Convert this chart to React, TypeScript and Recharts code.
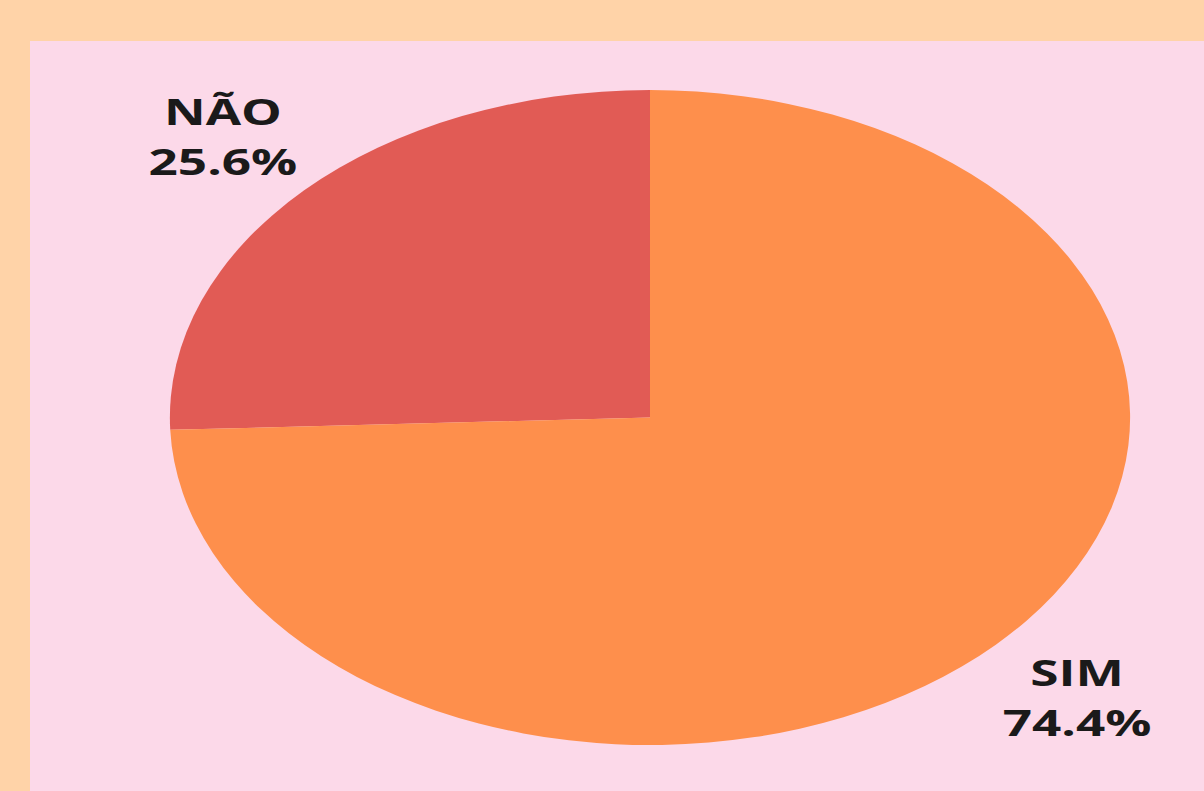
import { Cell, Pie, PieChart } from "recharts";
import type { PieLabelRenderProps } from "recharts";

const categories = ["NÃO", "SIM"];
const shares = [25.6, 74.4];
const sliceColours = ["#E15B55", "#FE8F4C"];

const data = categories.map((name, i) => ({ name, value: shares[i] }));

// the source picture is stretched sideways, so the chart is drawn round and then widened
const STRETCH = 1.466;
const WIDTH = 1204;
const HEIGHT = 791;

const RADIAN = Math.PI / 180;

const renderLabel = (props: PieLabelRenderProps) => {
  const cx = Number(props.cx ?? 0);
  const cy = Number(props.cy ?? 0);
  const r = Number(props.outerRadius ?? 0) * 1.235;
  const mid = Number(props.midAngle ?? 0);
  const x = cx + r * Math.cos(-mid * RADIAN);
  const y = cy + r * Math.sin(-mid * RADIAN);
  return (
    <g>
      <text x={x} y={y - 12} textAnchor="middle" fontFamily="'Open Sans', sans-serif" fontWeight={700} fontSize={35} fill="#1a1a1a">
        {props.name}
      </text>
      <text x={x} y={y + 38} textAnchor="middle" fontFamily="'Open Sans', sans-serif" fontWeight={700} fontSize={35} fill="#1a1a1a">
        {`${Number(props.value).toFixed(1)}%`}
      </text>
    </g>
  );
};

export default function App() {
  return (
    <div style={{ position: "absolute", left: 0, top: 0, width: WIDTH, height: HEIGHT, background: "#FFD3A8", overflow: "hidden" }}>
      <div style={{ position: "absolute", left: 30, top: 41, width: WIDTH - 30, height: HEIGHT - 41, background: "#FCD9E9" }} />
      <div style={{ position: "absolute", left: 0, top: 0, transform: `scaleX(${STRETCH})`, transformOrigin: "0 0" }}>
        <PieChart width={WIDTH / STRETCH} height={HEIGHT} margin={{ top: 0, right: 0, bottom: 0, left: 0 }}>
          <Pie
            data={data}
            dataKey="value"
            nameKey="name"
            cx={650 / STRETCH}
            cy={417.5}
            outerRadius={327.5}
            startAngle={90}
            endAngle={450}
            stroke="none"
            label={renderLabel}
            labelLine={false}
            isAnimationActive={false}
          >
            {data.map((_, index) => (
              <Cell key={`cell-${index}`} fill={sliceColours[index % sliceColours.length]} />
            ))}
          </Pie>
        </PieChart>
      </div>
    </div>
  );
}
